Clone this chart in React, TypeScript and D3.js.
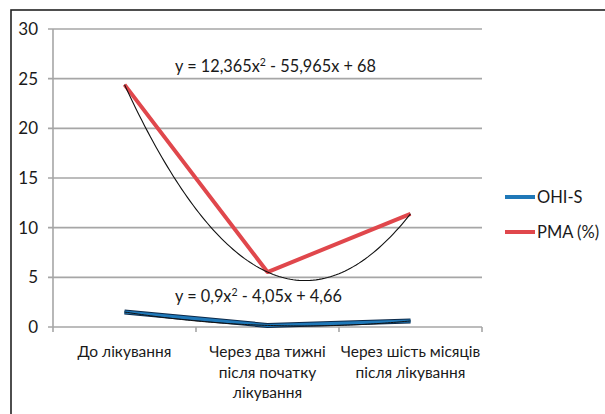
import React from "react";
import * as d3 from "d3";

const categories: string[][] = [
  ["До лікування"],
  ["Через два тижні", "після початку", "лікування"],
  ["Через шість місяців", "після лікування"],
];
const seriesNames = ["OHI-S", "PMA (%)"];
const ohisValues = [1.51, 0.16, 0.61];
const pmaValues = [24.4, 5.53, 11.39];
const yTicks = [0, 5, 10, 15, 20, 25, 30];
const ohisCoef = [0.9, -4.05, 4.66];
const pmaCoef = [12.365, -55.965, 68];
const ohisEqLabel = "y = 0,9x";
const ohisEqRest = " - 4,05x + 4,66";
const pmaEqLabel = "y = 12,365x";
const pmaEqRest = " - 55,965x + 68";

const FONT = "Lato, 'Open Sans', sans-serif";

export default function App() {
  const left = 53, right = 482, top = 29, bottom = 327;
  const x = d3.scaleBand<number>().domain([0, 1, 2]).range([left, right]);
  const y = d3.scaleLinear().domain([0, 30]).range([bottom, top]);
  const cx = (i: number) => (x(i) as number) + x.bandwidth() / 2;
  const line = d3.line<number>().x((_, i) => cx(i)).y((d) => y(d));
  const trend = (c: number[]) => {
    const pts = d3.range(1, 3.0001, 0.02).map((t) => [t, c[0] * t * t + c[1] * t + c[2]]);
    return d3
      .line<number[]>()
      .x((p) => cx(0) + (p[0] - 1) * x.step())
      .y((p) => y(p[1]))(pts) as string;
  };
  const red = "#e0474c";
  const blue = "#1f78b8";
  const txt = "#1a1a1a";
  return (
    <svg
      width={605}
      height={414}
      style={{ position: "absolute", left: 0, top: 0, background: "#fff" }}
      fontFamily={FONT}
    >
      <rect x={11} y={10} width={700} height={500} fill="#fff" stroke="#222" strokeWidth={1.6} />
      {yTicks.map((t) => (
        <g key={t}>
          <line x1={left - 5} x2={right} y1={y(t)} y2={y(t)} stroke="#a6a6a6" strokeWidth={1.6} />
          <text x={38} y={y(t)} dy="0.36em" textAnchor="end" fontSize={17} fill={txt}>
            {t}
          </text>
        </g>
      ))}
      <line x1={left} x2={left} y1={top} y2={bottom} stroke="#a6a6a6" strokeWidth={1.6} />
      {[0, 1, 2, 3].map((i) => {
        const xx = left + i * x.step();
        return <line key={i} x1={xx} x2={xx} y1={bottom} y2={bottom + 5} stroke="#a6a6a6" strokeWidth={1.6} />;
      })}
      {categories.map((lines, i) => (
        <text key={i} textAnchor="middle" fontSize={15.5} fill={txt}>
          {lines.map((l, j) => (
            <tspan key={j} x={cx(i)} y={357 + j * 20.5}>
              {l}
            </tspan>
          ))}
        </text>
      ))}
      {/* OHI-S */}
      <path d={line(ohisValues) as string} fill="none" stroke="#0d2a4a" strokeWidth={5} strokeLinejoin="round" />
      <path d={line(ohisValues) as string} fill="none" stroke={blue} strokeWidth={3} strokeLinejoin="round" />
      <path d={trend(ohisCoef)} fill="none" stroke="#111" strokeWidth={1} />
      {/* PMA */}
      <path d={line(pmaValues) as string} fill="none" stroke={red} strokeWidth={4} strokeLinejoin="round" />
      <path d={trend(pmaCoef)} fill="none" stroke="#111" strokeWidth={1.1} />
      {/* equations */}
      <text x={175} y={72} fontSize={16.3} fill={txt}>
        {pmaEqLabel}
        <tspan dy={-6} fontSize={10.5}>2</tspan>
        <tspan dy={6}>{pmaEqRest}</tspan>
      </text>
      <text x={175} y={302} fontSize={16.3} fill={txt}>
        {ohisEqLabel}
        <tspan dy={-6} fontSize={10.5}>2</tspan>
        <tspan dy={6}>{ohisEqRest}</tspan>
      </text>
      {/* legend */}
      {seriesNames.map((n, i) => (
        <g key={n}>
          <line x1={505} x2={535} y1={197 + i * 35} y2={197 + i * 35} stroke={i === 0 ? blue : red} strokeWidth={4} />
          <text x={537} y={197 + i * 35} dy="0.36em" fontSize={16.5} fill={txt}>
            {n}
          </text>
        </g>
      ))}
    </svg>
  );
}
